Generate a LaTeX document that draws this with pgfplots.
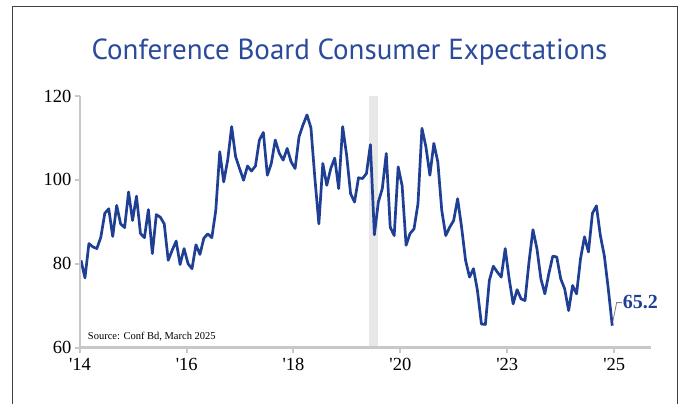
\documentclass[border=0pt]{standalone}
\usepackage{fontspec}
\setmainfont{Liberation Serif}
\newfontfamily\titlefont{PT Sans}
\usepackage{pgfplots}
\pgfplotsset{compat=1.18}
\definecolor{lineblue}{HTML}{1F3F94}
\definecolor{titleblue}{HTML}{2A4A9B}
\definecolor{axgray}{HTML}{C8C8C8}
\definecolor{bargray}{HTML}{E8E8E8}
\definecolor{framegray}{HTML}{404040}
\begin{document}
\begin{tikzpicture}[x=1pt,y=1pt]
\useasboundingbox (0,0) rectangle (684,404);
\draw[framegray, line width=1pt] (12,0) -- (12,397.4) -- (677,397.4) -- (677,0);
\node[titleblue, anchor=base, font=\titlefont\fontsize{29}{29}\selectfont] at (349.5,344.7) {Conference Board Consumer Expectations};
\begin{axis}[
  at={(80pt,56.5pt)}, anchor=south west,
  scale only axis, width=570.7pt, height=251.5pt,
  xmin=-0.25, xmax=143.7, ymin=60, ymax=120,
  axis x line=bottom, axis y line=left,
  axis line style={-, axgray, line width=2.6pt},
  axis on top,
  xtick={-0.25,26.68,53.6,80.55,107.5,134.5},
  xticklabels={\textquotesingle14,\textquotesingle16,\textquotesingle18,\textquotesingle20,\textquotesingle23,\textquotesingle25},
  ytick={60,80,100,120},
  tick align=outside,
  major tick length=5pt,
  tick style={axgray, line width=2pt},
  /pgf/number format/assume math mode=true,
  tick label style={font=\fontsize{18.5}{18.5}\selectfont, black},
  xticklabel style={yshift=-2pt},
  clip=false,
]
\addplot[fill=bargray, draw=none] coordinates {(72.6,60) (74.9,60) (74.9,120) (72.6,120)} -- cycle;
\addplot[lineblue, line width=2.7pt, line join=round] coordinates {
(0,80.8)(1,76.6)(2,84.8)(3,84.0)(4,83.6)(5,86.3)(6,92.0)(7,93.1)(8,86.5)(9,93.9)
(10,89.5)(11,88.6)(12,97.1)(13,90.3)(14,96.1)(15,87.2)(16,86.2)(17,92.9)(18,82.4)(19,91.7)
(20,91.1)(21,89.5)(22,80.8)(23,83.2)(24,85.4)(25,79.8)(26,83.6)(27,80.0)(28,78.8)(29,84.5)
(30,82.2)(31,86.1)(32,87.1)(33,86.2)(34,92.7)(35,106.7)(36,99.5)(37,104.7)(38,112.7)(39,105.5)
(40,102.7)(41,99.9)(42,103.3)(43,102.1)(44,103.3)(45,109.5)(46,111.3)(47,101.1)(48,103.9)(49,109.5)
(50,106.4)(51,104.7)(52,107.5)(53,104.3)(54,102.7)(55,110.3)(56,113.1)(57,115.5)(58,112.4)(59,100.3)
(60,89.5)(61,103.9)(62,98.7)(63,102.7)(64,105.2)(65,97.9)(66,112.7)(67,105.9)(68,96.7)(69,94.7)
(70,100.5)(71,100.3)(72,101.5)(73,108.4)(74,86.9)(75,94.7)(76,97.9)(77,106.3)(78,88.7)(79,86.7)
(80,103.1)(81,98.6)(82,84.4)(83,87.2)(84,88.3)(85,94.3)(86,112.3)(87,107.9)(88,101.1)(89,108.7)
(90,104.3)(91,92.7)(92,86.7)(93,88.7)(94,90.3)(95,95.5)(96,88.7)(97,80.8)(98,76.8)(99,78.8)
(100,73.6)(101,65.6)(102,65.5)(103,76.0)(104,79.4)(105,78.0)(106,76.8)(107,83.6)(108,76.4)(109,70.4)
(110,73.8)(111,71.6)(112,71.2)(113,80.4)(114,88.1)(115,83.6)(116,76.4)(117,72.8)(118,77.6)(119,81.8)
(120,81.6)(121,76.4)(122,74.0)(123,68.8)(124,74.8)(125,72.8)(126,81.2)(127,86.4)(128,82.8)(129,92.0)
(130,93.8)(131,86.7)(132,81.9)(133,74.0)(134,65.2)
};
\draw[gray, line width=0.8pt] (axis cs:134.2,66.4) -- (axis cs:135.1,70.7) -- (axis cs:136.4,70.7);
\node[anchor=west, inner sep=0pt, lineblue, font=\bfseries\fontsize{20}{20}\selectfont] at (axis cs:136.6,70.9) {65.2};
\node[anchor=base west, inner sep=0pt, font=\fontsize{10.5}{10.5}\selectfont] at (axis cs:1.7,61.8) {Source: Conf Bd, March 2025};
\end{axis}
\end{tikzpicture}
\end{document}
